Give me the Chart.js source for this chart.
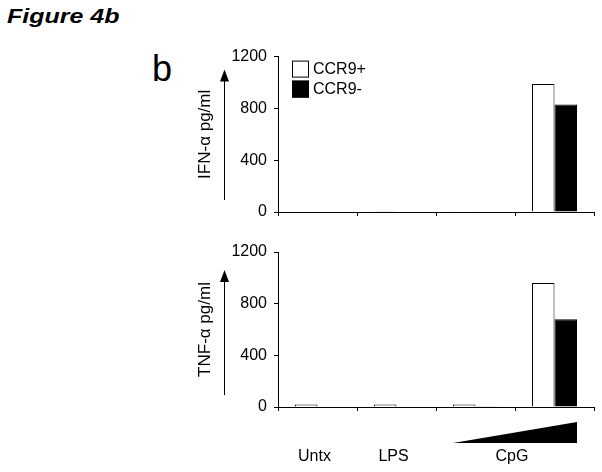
<!DOCTYPE html>
<html>
<head>
<meta charset="utf-8">
<script src="https://cdn.jsdelivr.net/npm/chart.js@4"></script>
<style>
    body { margin: 0; background: #fff; width: 602px; height: 472px; position: relative; overflow: hidden; font-family: 'Liberation Sans', Arial, sans-serif; }
    .fig { position: absolute; left: 7px; top: 5px; font-size: 20px; font-weight: bold; font-style: italic; transform: scaleX(1.25); transform-origin: left top; }
    .panel { position: absolute; left: 152px; top: 48px; font-size: 36px; }
    canvas { position: absolute; }
</style>
</head>
<body>
<div class="fig">Figure 4b</div>
<div class="panel">b</div>
<canvas id="ifn" width="422" height="190" style="left:180px;top:40px"></canvas>
<canvas id="tnf" width="422" height="242" style="left:180px;top:230px"></canvas>
<script>
// Data (pg/ml)
var categories = ['Untx', 'LPS', 'CpG low', 'CpG high'];
var seriesNames = ['CCR9+', 'CCR9-'];
var ifnPos = [0, 5, 1, 988];
var ifnNeg = [0, 3, 3, 830];
var tnfPos = [20, 20, 20, 960];
var tnfNeg = [3, 3, 6, 680];
var yTicks = [0, 400, 800, 1200];
var groupLabels = ['Untx', 'LPS', 'CpG'];
var groupSpans = [[0, 0], [1, 1], [2, 3]];

Chart.defaults.font.family = "'Liberation Sans', Arial, sans-serif";
Chart.defaults.font.size = 16;
Chart.defaults.color = '#000';

// Rotated axis title with an upward arrow next to it
var arrowTitle = {
    id: 'arrowTitle',
    afterDraw: function (chart, args, opts) {
        var ctx = chart.ctx, a = chart.chartArea;
        var cy = (a.top + a.bottom) / 2;
        ctx.save();
        ctx.translate(a.left - 73, cy);
        ctx.rotate(-Math.PI / 2);
        ctx.font = "17px 'Liberation Sans', Arial, sans-serif";
        ctx.fillStyle = '#000';
        ctx.textAlign = 'center';
        ctx.textBaseline = 'middle';
        ctx.fillText(opts.text, 0, 0);
        ctx.restore();

        var ax = Math.round(a.left - 54) + 0.5;
        var tip = a.top + opts.tipOffset;
        ctx.save();
        ctx.strokeStyle = '#000';
        ctx.lineWidth = 1;
        ctx.beginPath();
        ctx.moveTo(ax, a.bottom - 12);
        ctx.lineTo(ax, tip + 8);
        ctx.stroke();
        ctx.fillStyle = '#000';
        ctx.beginPath();
        ctx.moveTo(ax, tip);
        ctx.lineTo(ax - 4.5, tip + 12);
        ctx.lineTo(ax + 4.5, tip + 12);
        ctx.closePath();
        ctx.fill();
        ctx.restore();
    }
};

// Legend boxes in the top-left of the upper panel
var boxLegend = {
    id: 'boxLegend',
    afterDraw: function (chart, args, opts) {
        if (!opts.show) return;
        var ctx = chart.ctx, a = chart.chartArea;
        ctx.save();
        ctx.font = "16px 'Liberation Sans', Arial, sans-serif";
        ctx.textBaseline = 'middle';
        chart.data.datasets.forEach(function (ds, i) {
            var x = a.left + 14, y = a.top + 4 + i * 20;
            ctx.fillStyle = ds.backgroundColor;
            ctx.fillRect(x, y, 17, 17);
            ctx.strokeStyle = '#000';
            ctx.lineWidth = 1;
            ctx.strokeRect(x + 0.5, y + 0.5, 16, 16);
            ctx.fillStyle = '#000';
            ctx.textAlign = 'left';
            ctx.fillText(ds.label, x + 21, y + 9);
        });
        ctx.restore();
    }
};

// Dose wedge and group labels under the lower panel
var groupAxis = {
    id: 'groupAxis',
    afterDraw: function (chart, args, opts) {
        if (!opts.show) return;
        var ctx = chart.ctx, a = chart.chartArea, xs = chart.scales.x;
        var b0 = chart.getDatasetMeta(0).data[2];
        var b1 = chart.getDatasetMeta(1).data[3];
        var left = b0.x - b0.width / 2, right = b1.x + b1.width / 2;
        ctx.save();
        ctx.fillStyle = '#000';
        ctx.beginPath();
        ctx.moveTo(left, a.bottom + 36);
        ctx.lineTo(right, a.bottom + 36);
        ctx.lineTo(right, a.bottom + 15);
        ctx.closePath();
        ctx.fill();

        ctx.font = "16px 'Liberation Sans', Arial, sans-serif";
        ctx.textAlign = 'center';
        ctx.textBaseline = 'middle';
        groupLabels.forEach(function (lbl, i) {
            var s = groupSpans[i];
            var cx = (xs.getPixelForValue(s[0]) + xs.getPixelForValue(s[1])) / 2 - 3;
            ctx.fillText(lbl, cx, a.bottom + 50);
        });
        ctx.restore();
    }
};

function makeChart(id, pos, neg, title, tipOffset, xHeight, padTop, isTop) {
    return new Chart(document.getElementById(id), {
        type: 'bar',
        data: {
            labels: categories,
            datasets: [{
                label: seriesNames[0],
                data: pos,
                backgroundColor: '#ffffff',
                borderColor: '#000',
                borderWidth: 1,
                categoryPercentage: 0.57,
                barPercentage: 1
            }, {
                label: seriesNames[1],
                data: neg,
                backgroundColor: '#000000',
                borderColor: '#000',
                borderWidth: 1,
                categoryPercentage: 0.57,
                barPercentage: 1
            }]
        },
        options: {
            responsive: false,
            animation: false,
            events: [],
            layout: { padding: { top: padTop, right: 8, bottom: 0, left: 0 } },
            plugins: {
                legend: { display: false },
                tooltip: { enabled: false },
                arrowTitle: { text: title, tipOffset: tipOffset },
                boxLegend: { show: isTop },
                groupAxis: { show: !isTop }
            },
            scales: {
                x: {
                    offset: true,
                    grid: { display: true, drawOnChartArea: false, drawTicks: true, tickLength: 4, color: '#000', offset: true },
                    border: { display: true, color: '#000', width: 1 },
                    ticks: { display: false },
                    afterFit: function (scale) { scale.height = xHeight; }
                },
                y: {
                    min: 0,
                    max: 1200,
                    afterBuildTicks: function (scale) {
                        scale.ticks = yTicks.map(function (v) { return { value: v }; });
                    },
                    grid: { display: true, drawOnChartArea: false, drawTicks: true, tickLength: 4, color: '#000' },
                    border: { display: true, color: '#000', width: 1 },
                    ticks: { padding: 7, color: '#000', callback: function (v) { return String(v); } },
                    afterFit: function (scale) { scale.width = 98; }
                }
            }
        },
        plugins: [arrowTitle, boxLegend, groupAxis]
    });
}

makeChart('ifn', ifnPos, ifnNeg, 'IFN-\u03b1 pg/ml', 13, 18, 15, true);
makeChart('tnf', tnfPos, tnfNeg, 'TNF-\u03b1 pg/ml', 18, 65, 22, false);
</script>
</body>
</html>
